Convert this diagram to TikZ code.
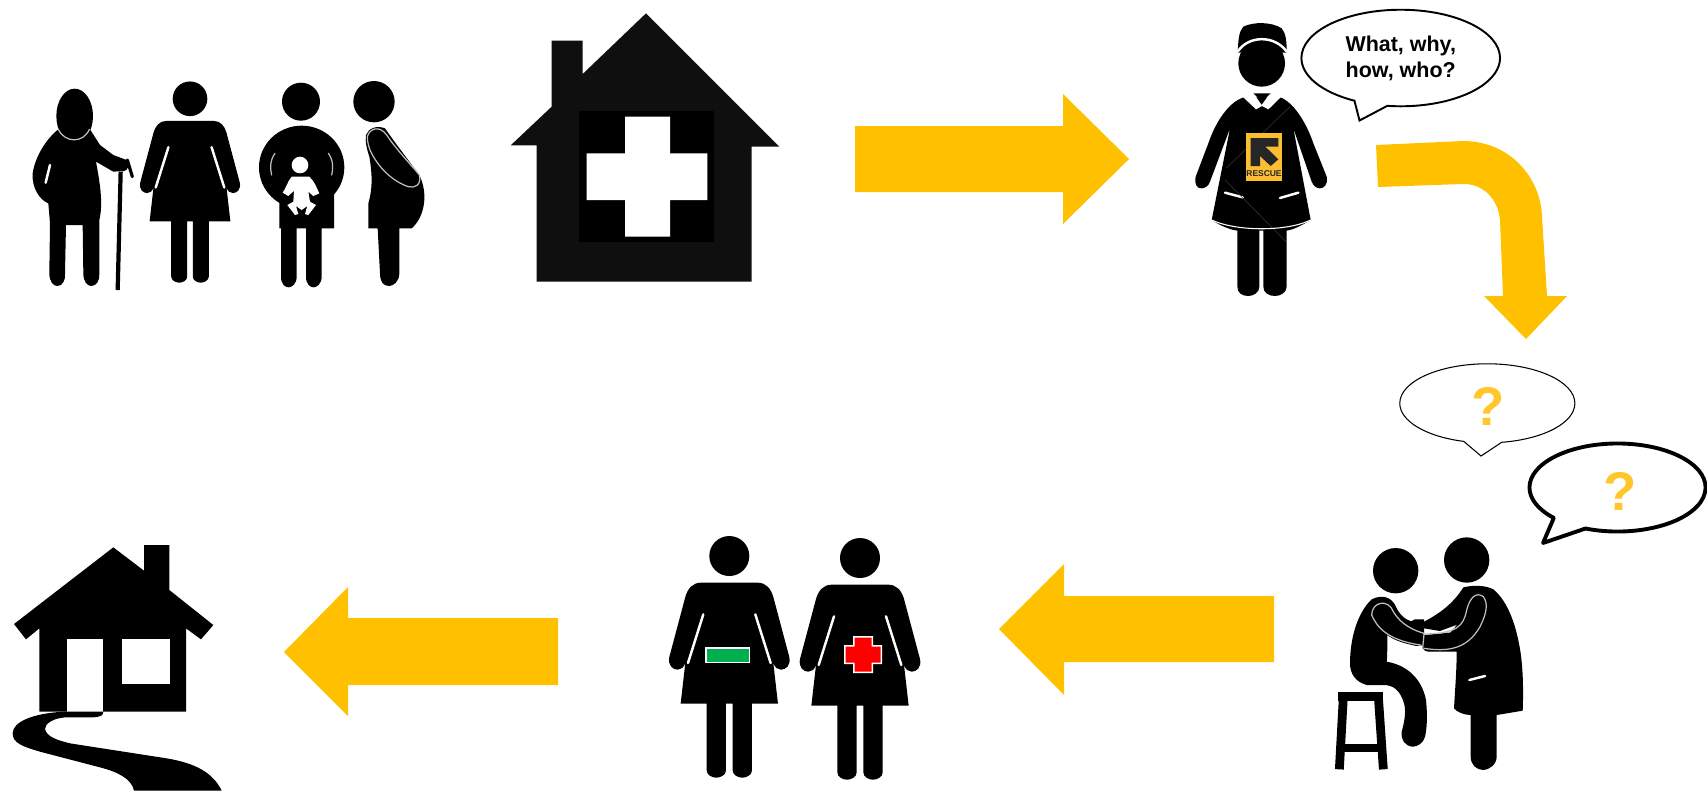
\documentclass[tikz,border=0pt]{standalone}
\usepackage{fontspec}
\setmainfont{Liberation Sans}
\usetikzlibrary{shapes.callouts, positioning}
\definecolor{flowgold}{HTML}{FFC000}
\definecolor{askgold}{HTML}{FFC72C}
\definecolor{badgegold}{HTML}{FBBE33}
\definecolor{clinicblack}{HTML}{0F0F0F}
\definecolor{resultgreen}{HTML}{00B050}
\tikzset{
    icon/.style={fill=black},
    gapline/.style={draw=white, line width=0.7pt, line cap=round},
    thinline/.style={draw=white!75!black, line width=0.35pt, line cap=round},
    flow/.style={fill=flowgold},
    bubble/.style={ellipse callout, draw=black, fill=white, inner sep=0pt, align=center},
    askmark/.style={text=askgold, font=\fontsize{15.5}{15.5}\selectfont\bfseries}
}
% woman in a dress, drawn around the top of her head
\newcommand{\dresswoman}[3]{%
  \begin{scope}[shift={(#1)},scale=#2]
    \fill[icon] (0,57) circle (#3);
    \fill[icon] (-85,137) -- (85,137) .. controls (110,137) and (125,155) .. (132,180)
        -- (180,360) .. controls (185,385) and (170,398) .. (155,398)
        .. controls (145,398) and (137,392) .. (132,378) -- (146,500) -- (68,500) -- (68,700)
        .. controls (68,715) and (50,722) .. (39,722) .. controls (28,722) and (10,715) .. (10,700)
        -- (10,500) -- (-10,500) -- (-10,700)
        .. controls (-10,715) and (-28,722) .. (-39,722) .. controls (-50,722) and (-68,715) .. (-68,700)
        -- (-68,500) -- (-146,500) -- (-132,378)
        .. controls (-137,392) and (-145,398) .. (-155,398) .. controls (-170,398) and (-185,385) .. (-180,360)
        -- (-132,180) .. controls (-125,155) and (-110,137) .. (-85,137) -- cycle;
    \draw[gapline] (78,232) -- (124,378);
    \draw[gapline] (-78,232) -- (-124,378);
  \end{scope}}

\begin{document}
\begin{tikzpicture}[x=0.01cm, y=-0.01cm]
    \useasboundingbox (0,0) rectangle (1707,793);

    % old man with cane
    \begin{scope}[shift={(0,60)},scale=1/3]
        \fill[icon] (224,168) ellipse (55 and 82);
        \fill[icon] (175,208) .. controls (140,235) and (105,290) .. (98,340)
            .. controls (95,385) and (120,420) .. (145,430) -- (150,490) -- (148,640)
            .. controls (148,665) and (160,678) .. (172,678) .. controls (188,678) and (197,660) .. (195,640)
            -- (198,495) -- (248,495) -- (250,640) .. controls (250,665) and (262,678) .. (274,678)
            .. controls (290,678) and (300,660) .. (298,640) -- (298,480)
            .. controls (310,430) and (300,370) .. (288,305) -- (340,335) -- (372,333)
            .. controls (385,330) and (388,318) .. (380,300) -- (340,285) -- (300,255)
            -- (270,208) .. controls (250,245) and (195,245) .. (175,208) -- cycle;
        \draw[line width=1.2pt] (362,335) -- (353,690);
        \draw[line width=0.9pt, line cap=round] (382,300) -- (397,350);
        \draw[thinline] (175,208) .. controls (195,250) and (250,250) .. (268,208);
        \draw[gapline] (150,315) -- (137,368);
    \end{scope}

    % woman
    \dresswoman{190,83}{0.2765}{52/0.83}

    % baby in the belly
    \begin{scope}[shift={(0,60)},scale=1/3]
        \fill[icon] (903,125) circle (57);
        \fill[icon] (905,322) ellipse (128 and 125);
        \fill[icon] (838,400) -- (970,400) -- (1002,400) -- (1002,505) -- (965,505) -- (965,650)
            .. controls (965,672) and (950,682) .. (941,682) .. controls (930,682) and (918,672) .. (918,650)
            -- (918,505) -- (890,505) -- (890,650) .. controls (890,672) and (875,682) .. (866,682)
            .. controls (855,682) and (843,672) .. (843,650) -- (843,505) -- (838,505) -- cycle;
        \draw[thinline] (825,280) .. controls (810,300) and (810,325) .. (815,345);
        \draw[thinline] (985,280) .. controls (1000,300) and (1000,325) .. (995,345);
        \fill[white] (900,315) circle (25);
        \fill[white] (875,350) -- (928,350) .. controls (945,365) and (950,385) .. (958,400)
            -- (940,408) -- (925,395) -- (930,425) -- (948,435) -- (925,465) -- (915,462) -- (922,438)
            -- (905,450) -- (888,438) -- (895,462) -- (885,465) -- (862,435) -- (880,425) -- (882,392)
            -- (865,408) -- (848,398) .. controls (858,385) and (862,365) .. (875,350) -- cycle;
    \end{scope}

    % side view with belly
    \begin{scope}[shift={(0,60)},scale=1/3]
        \fill[icon] (1122,125) circle (62);
        \fill[icon] (1098,225) .. controls (1105,205) and (1130,195) .. (1155,205)
            .. controls (1190,255) and (1225,300) .. (1258,345)
            .. controls (1285,400) and (1275,470) .. (1235,505) -- (1198,505) -- (1198,640)
            .. controls (1198,665) and (1180,678) .. (1167,678) .. controls (1150,678) and (1140,665) .. (1140,640)
            -- (1133,505) -- (1105,505) -- (1105,430) .. controls (1120,380) and (1115,330) .. (1108,290)
            .. controls (1100,265) and (1095,245) .. (1098,225) -- cycle;
        \draw[thinline] (1102,230) .. controls (1108,205) and (1140,195) .. (1160,225)
            .. controls (1190,270) and (1230,310) .. (1258,345)
            .. controls (1265,375) and (1245,385) .. (1225,380)
            .. controls (1180,365) and (1135,325) .. (1110,270) .. controls (1105,255) and (1102,245) .. (1102,230);
    \end{scope}

    % clinic
    \begin{scope}[shift={(490,0)},scale=1/3]
        \fill[clinicblack] (468,40) -- (868,440) -- (785,440) -- (785,845) -- (140,845) -- (140,436)
            -- (62,436) -- (185,320) -- (185,122) -- (278,122) -- (278,222) -- cycle;
        \fill[black] (268,333) rectangle (672,725);
        \fill[white] (405,350) -- (540,350) -- (540,460) -- (652,460) -- (652,600) -- (540,600)
            -- (540,710) -- (405,710) -- (405,600) -- (290,600) -- (290,460) -- (405,460) -- cycle;
    \end{scope}

    % nurse
    \begin{scope}[shift={(1160,0)},scale=1/3]
        \fill[icon] (233,158) .. controls (235,120) and (236,95) .. (250,80) .. controls (280,65) and (335,65) .. (365,85)
            .. controls (378,100) and (380,125) .. (380,158) -- cycle;
        \fill[icon] (305,190) circle (70);
        \draw[gapline] (233,155) .. controls (265,105) and (345,105) .. (380,155);
        \fill[icon] (252,292) -- (360,292) .. controls (400,305) and (440,370) .. (460,430)
            -- (500,530) .. controls (505,555) and (490,565) .. (480,565) .. controls (470,565) and (460,558) .. (455,545)
            -- (400,385) -- (452,660) .. controls (420,680) and (395,690) .. (380,692) -- (380,860)
            .. controls (380,878) and (360,888) .. (345,888) .. controls (325,888) and (310,878) .. (310,860)
            -- (310,692) -- (298,692) -- (298,860)
            .. controls (298,878) and (280,888) .. (265,888) .. controls (245,888) and (232,878) .. (232,860)
            -- (232,692) .. controls (215,690) and (185,680) .. (155,660) -- (210,385) -- (150,545)
            .. controls (145,558) and (135,565) .. (125,565) .. controls (112,565) and (102,555) .. (107,530)
            -- (145,430) .. controls (165,370) and (205,305) .. (252,292) -- cycle;
        \fill[white] (250,292) -- (280,280) -- (305,315) -- (330,280) -- (362,292) -- (325,328) -- (306,318)
            -- (288,328) -- cycle;
        \fill[icon] (280,280) -- (332,280) -- (306,305) -- cycle;
        \draw[gapline] (195,578) -- (248,592);
        \draw[gapline] (360,594) -- (415,578);
        \draw[draw=black!78, line width=0.15pt] (195,540) -- (378,725);
        \draw[draw=black!78, line width=0.15pt] (198,505) -- (390,320);
        \draw[gapline, line width=0.3pt] (155,660) .. controls (230,695) and (380,695) .. (452,660);
        \fill[badgegold] (258,400) rectangle (366,543);
        \fill[black!85] (272,414) -- (355,414) -- (355,440) -- (316,440) -- (355,478) -- (332,498)
            -- (300,468) -- (300,498) -- (272,498) -- cycle;
        \node[font=\fontsize{2.4}{2.4}\selectfont\bfseries, text=black!85] (badgetext) at (312,521) {RESCUE};
    \end{scope}
    \node[bubble, minimum width=1.985cm, minimum height=0.965cm, line width=0.55pt,
        font=\fontsize{6.1}{7.4}\selectfont\bfseries, callout pointer arc=20,
        callout absolute pointer={(1359.5,120.5)}] (whatbubble) at (1400.7,58)
        {What, why,\\how, who?};

    % curved arrow down
    \fill[flow] (1376,145) -- (1463,141) .. controls (1510,141) and (1541,178) .. (1542,217)
        -- (1547,296) -- (1567,296) -- (1526,339) -- (1484,296) -- (1503,296) -- (1500,220)
        .. controls (1498,198) and (1482,183) .. (1462,184) -- (1378,187) -- cycle;

    % straight arrows
    \fill[flow] (855,126) -- (1063,126) -- (1063,94) -- (1129,159) -- (1063,224) -- (1063,192) -- (855,192) -- cycle;
    \fill[flow] (1274,596) -- (1064,596) -- (1064,564) -- (999,629) -- (1064,695) -- (1064,662) -- (1274,662) -- cycle;
    \fill[flow] (558,618) -- (348,618) -- (348,587) -- (284,652) -- (348,716) -- (348,685) -- (558,685) -- cycle;

    % question bubbles
    \node[bubble, minimum width=1.75cm, minimum height=0.79cm, line width=0.3pt, callout pointer arc=25,
        callout absolute pointer={(1481,456)}] (askone) at (1487.3,403.3) {};
    \node[askmark] (askonemark) at (1487.7,406) {?};
    \node[bubble, minimum width=1.76cm, minimum height=0.88cm, line width=1.1pt, line join=round, callout pointer arc=25,
        callout absolute pointer={(1543,543)}] (asktwo) at (1617.5,487.5) {};
    \node[askmark] (asktwomark) at (1620,491) {?};

    % consultation
    \begin{scope}[shift={(1300,350)},scale=1/3]
        \fill[icon] (287,662) circle (68);
        \fill[icon] (500,630) circle (68);
        % patient
        \fill[icon] (215,748) .. controls (240,735) and (275,735) .. (290,775) .. controls (300,795) and (320,815) .. (345,815)
            -- (372,815) -- (372,885) -- (350,888) .. controls (310,880) and (280,870) .. (262,855)
            .. controls (262,890) and (262,915) .. (260,935) .. controls (320,945) and (365,985) .. (378,1050)
            .. controls (382,1090) and (382,1130) .. (375,1160) .. controls (370,1180) and (352,1190) .. (338,1190)
            .. controls (315,1188) and (302,1170) .. (305,1145) .. controls (315,1110) and (318,1080) .. (312,1060)
            .. controls (300,1020) and (280,1005) .. (250,1005) -- (200,1005)
            .. controls (165,995) and (150,970) .. (150,940) .. controls (150,870) and (170,790) .. (215,748) -- cycle;
        % doctor
        \fill[icon] (490,712) .. controls (520,705) and (555,705) .. (580,718) .. controls (625,755) and (650,830) .. (662,910)
            .. controls (670,970) and (670,1030) .. (668,1082) -- (590,1095) -- (590,1220)
            .. controls (590,1245) and (565,1260) .. (550,1260) .. controls (530,1260) and (512,1245) .. (512,1220)
            -- (512,1095) .. controls (490,1095) and (470,1085) .. (462,1075) .. controls (465,1020) and (470,960) .. (470,905)
            -- (385,905) .. controls (370,905) and (362,890) .. (368,870) -- (372,855) -- (450,848)
            -- (372,835) -- (372,815) .. controls (420,790) and (460,760) .. (490,712) -- cycle;
        \fill[icon] (325,818) -- (345,808) -- (372,808) -- (372,830) -- (335,828) -- cycle;
        \fill[white] (415,845) -- (470,825) -- (450,848) -- cycle;
        % stool
        \draw[line width=2.6pt] (115,1040) -- (250,1040);
        \draw[line width=2.5pt] (130,1040) -- (118,1258);
        \draw[line width=2.5pt] (235,1040) -- (250,1258);
        \draw[line width=2.3pt] (125,1195) -- (240,1195);
        % outlines
        \draw[thinline] (215,795) .. controls (215,755) and (265,745) .. (280,785)
            .. controls (295,810) and (320,835) .. (372,850);
        \draw[thinline] (215,795) .. controls (230,830) and (260,870) .. (362,885);
        \draw[thinline] (372,895) .. controls (440,905) and (500,900) .. (540,830)
            .. controls (560,790) and (565,760) .. (550,740) .. controls (530,725) and (510,740) .. (500,780)
            .. controls (490,830) and (470,850) .. (372,852);
        \draw[thinline] (372,852) -- (368,895);
        \draw[gapline] (508,990) -- (555,978);
    \end{scope}

    % two women with results
    \dresswoman{729.3,537}{1/3}{60}
    \dresswoman{860,539}{1/3}{60}
    \fill[white] (705.3,647) rectangle (750,663);
    \fill[resultgreen] (707,648.5) rectangle (749,661.5);
    \fill[white] (853,636) -- (873,636) -- (873,645) -- (882,645) -- (882,664) -- (873,664) -- (873,673)
        -- (853,673) -- (853,664) -- (844,664) -- (844,645) -- (853,645) -- cycle;
    \fill[red] (854.5,637.5) -- (871.5,637.5) -- (871.5,646.5) -- (880.5,646.5) -- (880.5,662.5) -- (871.5,662.5)
        -- (871.5,671.5) -- (854.5,671.5) -- (854.5,662.5) -- (845.5,662.5) -- (845.5,646.5) -- (854.5,646.5) -- cycle;

    % home with path
    \begin{scope}[shift={(0,530)},scale=1/3]
        \fill[icon] (340,52) -- (432,122) -- (432,45) -- (508,45) -- (508,180) -- (640,285) -- (603,328)
            -- (558,295) -- (558,545) -- (118,545) -- (118,295) -- (78,328) -- (42,282) -- cycle;
        \fill[white] (200,328) rectangle (310,545);
        \fill[white] (365,328) rectangle (510,463);
        \fill[icon] (310,545) .. controls (310,558) and (300,560) .. (280,562) -- (195,562)
            .. controls (160,565) and (135,580) .. (135,597) .. controls (140,620) and (170,630) .. (210,640)
            -- (500,685) .. controls (590,700) and (640,730) .. (665,782) -- (402,782)
            .. controls (395,745) and (350,725) .. (300,712) -- (120,665)
            .. controls (70,650) and (38,640) .. (38,610) .. controls (38,575) and (100,550) .. (190,545) -- cycle;
    \end{scope}
\end{tikzpicture}
\end{document}
